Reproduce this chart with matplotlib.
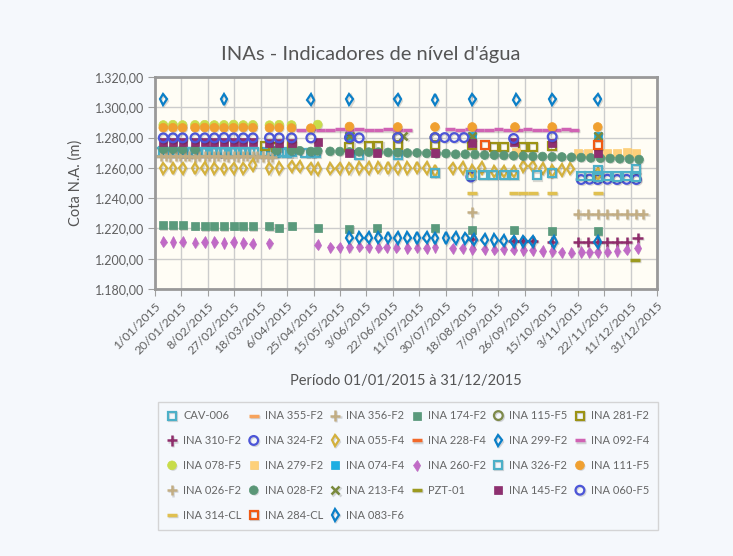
import numpy as np
import matplotlib
matplotlib.use("Agg")
import matplotlib.pyplot as plt
import matplotlib.patheffects as pe

plt.rcParams['font.family'] = ['Lato', 'DejaVu Sans']

# x values are days counted from 1/01/2015
tick_labels = ['1/01/2015', '20/01/2015', '8/02/2015', '27/02/2015', '18/03/2015',
               '6/04/2015', '25/04/2015', '15/05/2015', '3/06/2015', '22/06/2015',
               '11/07/2015', '30/07/2015', '18/08/2015', '7/09/2015', '26/09/2015',
               '15/10/2015', '3/11/2015', '22/11/2015', '11/12/2015', '31/12/2015']

cav006_x = [2, 6, 9, 13, 16, 20, 23, 27, 30, 34, 37, 41, 44, 48, 51, 55, 58, 62, 65, 69,
            72, 80, 84, 88, 92, 96, 99, 109, 113, 117, 148, 176]
cav006_y = [1270.5, 1270.8, 1270.3, 1270.6, 1270.4, 1270.7, 1270.2, 1270.5, 1270.6, 1270.3,
            1270.5, 1270.8, 1270.4, 1270.6, 1270.2, 1270.5, 1270.7, 1270.3, 1270.4, 1270.6,
            1270.5, 1270.2, 1270.4, 1270.1, 1270.3, 1270.0, 1270.2, 1269.6, 1269.8, 1270.0,
            1268.8, 1268.6]

ina355_x = []
ina355_y = []

ina356_x = [4, 8, 11, 15, 18, 22, 25, 29, 32, 36, 39, 43, 46, 50, 53, 57, 60, 64, 67, 71,
            74, 78, 82, 85, 230]
ina356_y = [1267.8, 1268.0, 1267.6, 1267.9, 1267.7, 1268.1, 1267.8, 1267.5, 1267.9, 1267.7,
            1268.0, 1267.6, 1267.8, 1267.9, 1267.5, 1267.8, 1267.6, 1268.0, 1267.7, 1267.9,
            1267.4, 1267.6, 1267.3, 1267.0, 1231.0]

ina174_x = [6, 13, 20, 29, 36, 43, 50, 57, 64, 71, 83, 90, 99, 118, 141, 161, 203, 230, 260, 288, 321]
ina174_y = [1222.0, 1222.0, 1222.0, 1221.8, 1221.3, 1221.3, 1221.3, 1221.5, 1221.3, 1221.3,
            1221.3, 1220.5, 1221.8, 1220.5, 1219.5, 1220.5, 1220.0, 1219.0, 1218.8, 1218.5, 1218.0]

ina115_x = [176, 203]
ina115_y = [1280.2, 1280.0]

ina281_x = [80, 88, 99, 141, 155, 162, 176, 203, 230, 246, 253, 267, 274, 288]
ina281_y = [1274.5, 1274.0, 1274.3, 1274.0, 1274.4, 1274.4, 1274.8, 1275.0, 1275.0, 1273.7,
            1273.7, 1273.7, 1273.7, 1274.5]

ina310_x = [230, 260, 267, 274, 288, 307, 314, 321, 328, 335, 342, 350]
ina310_y = [1213.0, 1211.5, 1211.5, 1211.5, 1211.2, 1211.0, 1211.0, 1211.0, 1211.0, 1211.0,
            1211.0, 1213.5]

ina324_x = [229, 309, 315, 321, 328, 335, 342, 349]
ina324_y = [1254.0, 1252.3, 1252.5, 1252.3, 1252.5, 1252.3, 1252.4, 1252.3]

ina055_x = [6, 13, 20, 29, 36, 43, 50, 57, 64, 71, 83, 90, 99, 105, 113, 118, 127, 134, 141,
            148, 155, 162, 169, 176, 183, 190, 197, 203, 216, 223, 230, 237, 246, 253, 260,
            267, 274, 281, 288, 295, 301, 321]
ina055_y = [1259.7, 1259.7, 1259.7, 1259.6, 1259.8, 1259.7, 1259.5, 1259.7, 1259.6, 1262.0,
            1259.7, 1259.8, 1261.0, 1260.8, 1259.7, 1259.2, 1259.5, 1259.6, 1259.6,
            1260.0, 1260.0, 1260.2, 1260.0, 1260.0, 1259.8, 1260.2, 1260.0, 1258.0,
            1259.7, 1260.0, 1258.0, 1260.0, 1257.5, 1257.5, 1257.5, 1261.0, 1261.0, 1259.5,
            1257.8, 1258.5, 1259.5, 1256.0]

ina228_x = []
ina228_y = []

ina299_x = [6, 50, 113, 141, 176, 203, 230, 262, 288, 321]
ina299_y = [1305.2, 1305.2, 1305.0, 1305.2, 1305.2, 1305.0, 1305.2, 1305.0, 1305.2, 1305.2]

ina092_x = [106, 113, 120, 127, 134, 141, 148, 155, 162, 169, 176, 183,
            214, 221, 228, 235, 242, 249, 256, 263, 270, 277, 284, 291, 298, 304]
ina092_y = [1285.2, 1285.4, 1285.3, 1285.2, 1285.4, 1285.3, 1285.4, 1285.2, 1285.3, 1285.4,
            1285.3, 1285.2, 1285.4, 1285.3, 1285.4, 1285.2, 1285.3, 1285.4, 1285.3, 1285.2,
            1285.4, 1285.3, 1285.2, 1285.3, 1285.4, 1285.3]

ina078_x = [6, 13, 20, 29, 36, 43, 50, 57, 64, 71, 83, 90, 99, 118]
ina078_y = [1288.3, 1288.5, 1288.3, 1288.4, 1288.5, 1288.3, 1288.4, 1288.6, 1288.3, 1288.4,
            1288.2, 1288.5, 1288.3, 1288.6]

ina279_x = [262, 307, 314, 321, 328, 335, 342, 349]
ina279_y = [1270.5, 1270.0, 1269.8, 1270.5, 1270.0, 1269.7, 1270.2, 1269.8]

ina074_x = [141, 230, 321]
ina074_y = [1281.0, 1281.0, 1281.0]

ina260_x = [6, 13, 20, 29, 36, 43, 50, 57, 64, 71, 83,
            118, 127, 134, 141, 148, 155, 162, 168, 175, 183, 190, 197, 203,
            216, 223, 230, 239, 246, 253, 260, 267, 274, 281, 288, 295, 302, 309, 315, 321,
            328, 335, 342, 350]
ina260_y = [1211.3, 1211.0, 1211.2, 1210.6, 1211.0, 1211.1, 1210.4, 1211.0, 1210.3, 1210.0, 1210.2,
            1209.3, 1207.5, 1207.5, 1207.6, 1208.0, 1207.6, 1207.3, 1207.5, 1207.4, 1207.0,
            1207.3, 1207.2, 1207.5,
            1206.8, 1206.8, 1206.5, 1206.2, 1206.0, 1206.2, 1206.0, 1205.8, 1205.5, 1205.0,
            1204.8, 1204.2, 1204.0, 1204.5, 1204.3, 1204.4, 1204.6, 1205.0, 1206.0, 1207.0]

ina326_x = [203, 229, 238, 245, 253, 260, 277, 288, 309, 315, 321, 321, 328, 335, 342, 349, 349]
ina326_y = [1256.5, 1255.5, 1255.3, 1255.3, 1255.3, 1255.3, 1255.0, 1256.8, 1254.5, 1254.5,
            1254.3, 1258.5, 1254.5, 1254.3, 1254.5, 1254.3, 1259.5]

ina111_x = [6, 13, 20, 29, 36, 43, 50, 57, 64, 71, 83, 90, 99, 113, 141, 176, 203, 230, 261, 288, 321]
ina111_y = [1286.5, 1286.5, 1286.4, 1286.5, 1286.6, 1286.5, 1286.4, 1286.5, 1286.6, 1286.5,
            1286.4, 1286.5, 1286.3, 1286.2, 1287.3, 1287.0, 1287.0, 1287.0, 1287.0, 1287.0, 1287.0]

ina026_x = [307, 314, 321, 328, 335, 342, 349, 354]
ina026_y = [1229.6, 1229.6, 1229.7, 1229.6, 1229.6, 1229.5, 1229.6, 1229.6]

ina028_x = [6, 13, 20, 29, 88, 99, 105, 113, 118, 127, 134, 141,
            148, 155, 162, 169, 176, 183, 190, 197, 204, 211, 218, 225, 232, 239, 246,
            253, 260, 267, 274, 281, 288, 295, 302, 309, 316, 323, 330, 337, 344, 351]
ina028_y = [1272.3, 1272.3, 1272.2, 1272.2, 1271.5, 1271.2, 1271.3, 1270.8, 1271.2, 1270.9,
            1270.8, 1270.5,
            1270.6, 1270.4, 1270.4, 1270.2, 1270.0, 1269.8, 1269.9, 1269.6, 1269.4, 1269.5,
            1269.0, 1269.0, 1268.8, 1268.5, 1268.4, 1268.2, 1268.0, 1267.8, 1267.6, 1267.5,
            1267.3, 1267.2, 1267.0, 1266.8, 1266.6, 1266.4, 1266.2, 1266.0, 1265.8, 1265.5]

ina213_x = [141, 180, 230, 321]
ina213_y = [1281.2, 1281.0, 1281.2, 1281.2]

pzt01_x = [348]
pzt01_y = [1199.0]

ina145_x = [6, 13, 20, 29, 36, 43, 50, 57, 64, 71, 83, 90, 99, 118, 141, 161, 203, 230, 260, 288, 321]
ina145_y = [1277.2, 1277.2, 1277.0, 1277.2, 1277.1, 1277.2, 1277.0, 1277.2, 1277.1, 1277.2,
            1276.7, 1276.7, 1276.7, 1277.0, 1269.8, 1269.8, 1270.0, 1276.3, 1276.8, 1276.5, 1269.8]

ina060_x = [6, 13, 20, 29, 36, 43, 50, 57, 64, 71, 83, 90, 99, 113, 141, 148, 176, 203,
            210, 217, 224, 260, 288]
ina060_y = [1279.8, 1279.8, 1279.8, 1279.8, 1279.8, 1279.8, 1280.0, 1279.8, 1279.8, 1279.8,
            1279.8, 1279.8, 1279.8, 1279.8, 1280.0, 1279.8, 1280.0, 1280.0, 1280.0, 1280.0,
            1280.0, 1279.4, 1280.6]

ina314_x = [230, 260, 267, 274, 288, 321]
ina314_y = [1243.5, 1243.6, 1243.6, 1243.6, 1243.6, 1243.5]

ina284_x = [239, 321]
ina284_y = [1275.0, 1275.0]

ina083_x = [141, 148, 155, 162, 169, 176, 183, 190, 197, 203, 211, 218, 225, 231, 239, 246,
            253, 260, 267, 274, 289, 321]
ina083_y = [1214.0, 1214.0, 1214.0, 1214.0, 1214.0, 1213.8, 1214.0, 1213.8, 1214.0, 1213.5,
            1213.8, 1213.8, 1213.5, 1212.5, 1212.5, 1212.3, 1212.0, 1211.5, 1211.5, 1211.4,
            1211.0, 1211.0]

# name, x, y, marker, colour, filled
series = [
    ('CAV-006', cav006_x, cav006_y, 's', '#4cb0c8', False),
    ('INA 355-F2', ina355_x, ina355_y, '_', '#f7a35c', True),
    ('INA 356-F2', ina356_x, ina356_y, '+', '#c2ad83', True),
    ('INA 174-F2', ina174_x, ina174_y, 's', '#5a9a7c', True),
    ('INA 115-F5', ina115_x, ina115_y, 'o', '#7e8a4a', False),
    ('INA 281-F2', ina281_x, ina281_y, 's', '#9c9315', False),
    ('INA 310-F2', ina310_x, ina310_y, '+', '#8e2d6b', True),
    ('INA 324-F2', ina324_x, ina324_y, 'o', '#4c55d8', False),
    ('INA 055-F4', ina055_x, ina055_y, 'd', '#d4b13c', False),
    ('INA 228-F4', ina228_x, ina228_y, '_', '#f2692a', True),
    ('INA 299-F2', ina299_x, ina299_y, 'd', '#0a7fc8', False),
    ('INA 092-F4', ina092_x, ina092_y, '_', '#d063b4', True),
    ('INA 078-F5', ina078_x, ina078_y, 'o', '#c8dc4a', True),
    ('INA 279-F2', ina279_x, ina279_y, 's', '#fdd07a', True),
    ('INA 074-F4', ina074_x, ina074_y, 's', '#1eaee2', True),
    ('INA 260-F2', ina260_x, ina260_y, 'd', '#c06ac6', True),
    ('INA 326-F2', ina326_x, ina326_y, 's', '#4cb0c8', False),
    ('INA 111-F5', ina111_x, ina111_y, 'o', '#f0a030', True),
    ('INA 026-F2', ina026_x, ina026_y, '+', '#c2ad83', True),
    ('INA 028-F2', ina028_x, ina028_y, 'o', '#5a9677', True),
    ('INA 213-F4', ina213_x, ina213_y, 'x', '#7a8a3c', True),
    ('PZT-01', pzt01_x, pzt01_y, '_', '#9c9a20', True),
    ('INA 145-F2', ina145_x, ina145_y, 's', '#8e3070', True),
    ('INA 060-F5', ina060_x, ina060_y, 'o', '#4c55d8', False),
    ('INA 314-CL', ina314_x, ina314_y, '_', '#e0c050', True),
    ('INA 284-CL', ina284_x, ina284_y, 's', '#f05a14', False),
    ('INA 083-F6', ina083_x, ina083_y, 'd', '#0a7fc8', False),
]

sizes = {'s': 5.8, 'o': 6.3, 'd': 5.8, '+': 7.5, 'x': 6, '_': 7}

bg = '#f5f8fc'
fig = plt.figure(figsize=(7.33, 5.56), dpi=100, facecolor=bg)
ax = fig.add_axes([155 / 733, 1 - 289 / 556, 502 / 733, 212 / 556])
ax.set_facecolor('#fffdf5')

handles = []
for name, xs, ys, mk, col, filled in series:
    if mk in '+x_':
        kw = dict(color=col, markeredgewidth=2.5 if mk == '_' else 1.8)
        fx = [pe.SimpleLineShadow(offset=(0.8, -0.8), shadow_color='#000000', alpha=0.15), pe.Normal()]
    elif filled:
        kw = dict(markerfacecolor=col, markeredgecolor=col, markeredgewidth=0.5)
        fx = [pe.SimplePatchShadow(offset=(0.8, -0.8), shadow_rgbFace='#000000', alpha=0.15), pe.Normal()]
    else:
        kw = dict(markerfacecolor='none', markeredgecolor=col, markeredgewidth=1.6)
        fx = [pe.SimpleLineShadow(offset=(0.8, -0.8), shadow_color='#000000', alpha=0.15), pe.Normal()]
    h, = ax.plot(xs, ys, linestyle='none', marker=mk, markersize=sizes[mk], label=name,
                 path_effects=fx, **kw)
    handles.append(h)

ax.set_xlim(0, 364)
ax.set_ylim(1180, 1320)
ax.set_xticks(np.linspace(0, 364, len(tick_labels)))
ax.set_xticklabels(tick_labels, rotation=45, ha='right', rotation_mode='anchor',
                   fontsize=8.8, color='#606060')
ax.set_yticks(np.arange(1180, 1321, 20))
ax.set_yticklabels([f"{v:,.2f}".replace(',', ' ').replace('.', ',').replace(' ', '.')
                    for v in np.arange(1180, 1321, 20)], fontsize=9, color='#606060')
ax.tick_params(axis='both', length=5, color='#a0a0a0', pad=3)
ax.grid(True, color='#cccccc', linewidth=1)
ax.set_axisbelow(True)
for sp in ax.spines.values():
    sp.set_color('#999999')
    sp.set_linewidth(2)

ax.set_xlabel('Período 01/01/2015 à 31/12/2015', fontsize=10.5, color='#555555', labelpad=13)
fig.text(76 / 733, 1 - 183 / 556, 'Cota N.A. (m)', rotation=90, ha='center', va='center',
         fontsize=10.5, color='#555555')
fig.text(371 / 733, 1 - 54 / 556, "INAs - Indicadores de nível d'água", ha='center',
         va='center', fontsize=14.5, color='#555555')

# legend is filled by rows in the reference, matplotlib fills by columns
ncol = 6
order = [i for c in range(ncol) for i in range(c, len(handles), ncol)]
leg = fig.legend([handles[i] for i in order], [series[i][0] for i in order],
                 loc='upper left', bbox_to_anchor=(152 / 733, 1 - 396 / 556), ncol=ncol,
                 fontsize=8, frameon=True, fancybox=False, edgecolor='#cccccc',
                 facecolor=bg, labelcolor='#666666', handlelength=1.0, handletextpad=0.5,
                 columnspacing=0.6, labelspacing=1.25, borderpad=0.8)
leg.get_frame().set_linewidth(1)

fig.savefig('out.png', dpi=100, facecolor=bg)
